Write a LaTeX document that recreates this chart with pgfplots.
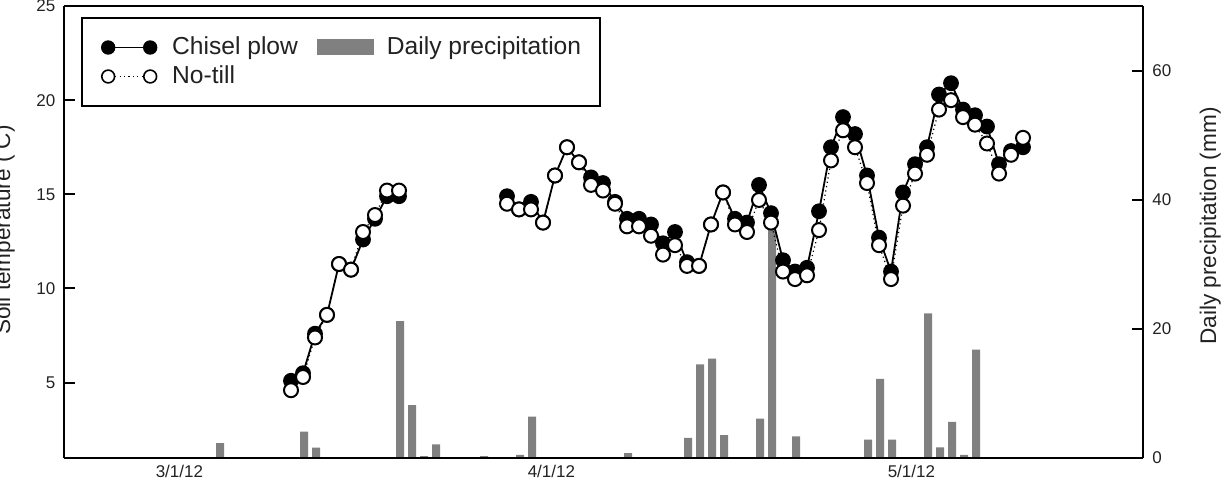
\documentclass[border=0pt]{standalone}
\usepackage{fontspec}
\setmainfont{Liberation Sans}
\usepackage{pgfplots}
\pgfplotsset{compat=1.18}
\definecolor{bargray}{HTML}{808080}
\definecolor{txt}{HTML}{222222}

\pgfplotsset{
  common/.style={
    scale only axis, width=539.5bp, height=226bp,
    at={(32bp,17bp)}, anchor=south west,
    xmin=-8.9167, xmax=81,
    tick align=inside,
    major tick length=5.5bp,
    every tick/.style={black, line width=1bp},
    axis line style={black, line width=1bp},
    ticklabel style={font=\fontsize{8.5bp}{10bp}\selectfont, text=txt},
    /pgf/number format/assume math mode=true,
  }
}

\begin{document}
\begin{tikzpicture}
% ---------- precipitation (right axis) ----------
\begin{axis}[
  common,
  ymin=0, ymax=70,
  axis x line=none,
  axis y line*=right,
  ytick={0,20,40,60},
  yticklabel style={xshift=1.2bp},
  every axis y label/.style={at={(rel axis cs:1,0.5)}, xshift=36.5bp, yshift=3bp, rotate=90, anchor=base, font=\fontsize{11.3bp}{13bp}\selectfont, text=txt},
  ylabel={Daily precipitation (mm)},
]
\addplot[ybar, bar width=4bp, fill=bargray, draw=none] coordinates {
(4.1,2.3) (11.1,4.1) (12.1,1.6) (19.1,21.2) (20.1,8.2) (21.1,0.3) (22.1,2.1)
(26.1,0.3) (29.1,0.5) (30.1,6.4) (38.1,0.75) (43.1,3.1) (44.1,14.5) (45.1,15.4)
(46.1,3.55) (49.1,6.1) (50.1,35.3) (52.1,3.35) (58.1,2.85) (59.1,12.25) (60.1,2.85)
(63.1,22.4) (64.1,1.65) (65.1,5.6) (66.1,0.5) (67.1,16.8)
};
\end{axis}

% ---------- soil temperature (left axis) ----------
\begin{axis}[
  common,
  ymin=1, ymax=25,
  axis x line=box,
  axis y line*=left,
  xtick={0.7,31.7,61.7},
  xticklabels={3/1/12,4/1/12,5/1/12},
  xtick style={draw=none},
  xticklabel pos=lower,
  xticklabel style={yshift=0bp},
  ytick={5,10,15,20,25},
  yticklabel style={xshift=-0.8bp},
  every axis y label/.style={at={(rel axis cs:0,0.5)}, xshift=-27bp, yshift=1bp, rotate=90, anchor=base, font=\fontsize{11.3bp}{13bp}\selectfont, text=txt},
  ylabel={Soil temperature ( C)},
  legend columns=2,
  legend cell align=left,
  legend style={at={(rel axis cs:0,1)}, xshift=8.5bp, yshift=-5.5bp, anchor=north west,
    draw=black, line width=1bp, inner xsep=9.5bp, inner ysep=7.5bp,
    font=\fontsize{12.3bp}{14bp}\selectfont, text=txt,
    nodes={inner sep=0pt},
    /tikz/column 2/.style={column sep=9.5bp}},
]
\addplot[black, line width=0.9bp, mark=*, mark size=3.5bp,
  mark options={solid, fill=black, draw=black, line width=0.9bp},
  unbounded coords=jump,
  legend image code/.code={
    \path[draw=none, fill=none] (1.5bp,-7.25bp) rectangle (32bp,7.25bp);
    \draw[black, solid, line width=0.9bp] (0bp,0bp) -- (21bp,0bp);
    \fill[black, draw=none] (0bp,0bp) circle (3.6bp);
    \fill[black, draw=none] (21bp,0bp) circle (3.6bp);
  }] coordinates {
(10,5.1) (11,5.5) (12,7.6) (13,8.6) (14,11.3) (15,11.0) (16,12.6) (17,13.7) (18,14.9) (19,14.9)
(23,nan)
(28,14.9) (29,14.2) (30,14.6) (31,13.5) (32,16.0) (33,17.5) (34,16.7) (35,15.9) (36,15.6) (37,14.6)
(38,13.7) (39,13.7) (40,13.4) (41,12.4) (42,13.0) (43,11.4) (44,11.2) (45,13.4) (46,15.1) (47,13.7)
(48,13.5) (49,15.5) (50,14.0) (51,11.5) (52,10.9) (53,11.1) (54,14.1) (55,17.5) (56,19.1) (57,18.2)
(58,16.0) (59,12.7) (60,10.9) (61,15.1) (62,16.6) (63,17.5) (64,20.3) (65,20.9) (66,19.5) (67,19.2)
(68,18.6) (69,16.6) (70,17.3) (71,17.5)
};
\addlegendimage{legend image code/.code={
    \path[draw=none, fill=none] (0bp,-7.25bp) rectangle (35bp,7.25bp);
    \fill[bargray, draw=none] (0bp,-4bp) rectangle (28.5bp,4bp);
  }}
\addplot[black, line width=0.6bp, dash pattern=on 0.6bp off 1.6bp, mark=*, mark size=3.5bp,
  mark options={solid, fill=white, draw=black, line width=1bp},
  unbounded coords=jump,
  legend image code/.code={
    \path[draw=none, fill=none] (1.5bp,-7.25bp) rectangle (32bp,7.25bp);
    \draw[black, line width=0.6bp, dash pattern=on 0.6bp off 1.6bp] (3.5bp,0bp) -- (17.5bp,0bp);
    \draw[black, solid, fill=white, line width=0.8bp] (0bp,0bp) circle (3.2bp);
    \draw[black, solid, fill=white, line width=0.8bp] (21bp,0bp) circle (3.2bp);
  }] coordinates {
(10,4.6) (11,5.3) (12,7.4) (13,8.6) (14,11.3) (15,11.0) (16,13.0) (17,13.9) (18,15.2) (19,15.2)
(23,nan)
(28,14.5) (29,14.2) (30,14.2) (31,13.5) (32,16.0) (33,17.5) (34,16.7) (35,15.5) (36,15.2) (37,14.5)
(38,13.3) (39,13.3) (40,12.8) (41,11.8) (42,12.3) (43,11.2) (44,11.2) (45,13.4) (46,15.1) (47,13.4)
(48,13.0) (49,14.7) (50,13.5) (51,10.9) (52,10.5) (53,10.7) (54,13.1) (55,16.8) (56,18.4) (57,17.5)
(58,15.6) (59,12.3) (60,10.5) (61,14.4) (62,16.1) (63,17.1) (64,19.5) (65,20.0) (66,19.1) (67,18.7)
(68,17.7) (69,16.1) (70,17.1) (71,18.0)
};
\legend{Chisel plow, Daily precipitation, No-till}
\end{axis}
\pgfresetboundingbox
\path[use as bounding box] (0,0) rectangle (612.5bp,246bp);
\end{tikzpicture}
\end{document}
